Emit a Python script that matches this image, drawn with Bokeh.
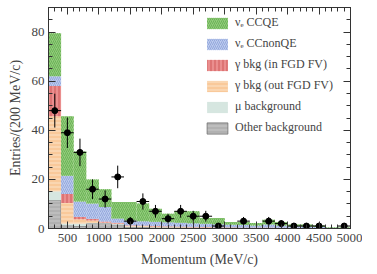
from bokeh.plotting import figure
from bokeh.models import ColumnDataSource, LinearAxis, SingleIntervalTicker, Range1d, Legend
from bokeh.embed import file_html
from bokeh.resources import INLINE

# bin centres (MeV/c), bin width 200
centers = [300, 500, 700, 900, 1100, 1300, 1500, 1700, 1900, 2100, 2300, 2500,
           2700, 2900, 3100, 3300, 3500, 3700, 3900, 4100, 4300, 4500, 4700, 4900]
other = [11.5, 1.2, 1.0, 2.0, 2.0, 1.5, 0.5, 0.5, 0.3, 0.3, 0.3, 0.2,
         0.2, 0.2, 0.2, 0.1, 0.1, 0.1, 0.1, 0.1, 0.1, 0.1, 0.0, 0.0]
mu_bkg = [3.7, 0.8, 1.0, 0.2, 0.2, 0.3, 0.3, 0.2, 0.2, 0.2, 0.1, 0.2,
          0.1, 0.1, 0.1, 0.1, 0.1, 0.1, 0.1, 0.1, 0.0, 0.0, 0.0, 0.0]
gamma_out = [30.5, 8.4, 1.8, 1.1, 0.2, 0.2, 0.3, 0.3, 0.3, 0.2, 0.2, 0.1,
             0.2, 0.1, 0.1, 0.1, 0.1, 0.1, 0.0, 0.0, 0.1, 0.0, 0.0, 0.0]
gamma_in = [12.3, 3.6, 0.9, 0.7, 0.4, 0.3, 0.2, 0.2, 0.2, 0.2, 0.2, 0.2,
            0.1, 0.1, 0.1, 0.1, 0.1, 0.1, 0.1, 0.1, 0.0, 0.1, 0.1, 0.1]
cc_nonqe = [4.0, 7.5, 6.3, 6.2, 6.0, 1.8, 2.0, 1.8, 1.7, 1.6, 1.5, 1.4,
            1.3, 1.2, 1.0, 1.0, 0.8, 1.2, 0.9, 0.6, 0.6, 0.4, 0.2, 0.2]
cc_qe = [17.5, 24.2, 20.4, 9.8, 7.2, 6.7, 7.5, 7.2, 5.3, 3.5, 4.7, 4.9,
         2.4, 2.6, 1.1, 1.2, 1.0, 2.0, 1.4, 0.7, 0.8, 0.6, 0.2, 0.2]
# data points
data_counts = [48, 39, 31, 16, 12, 21, 3, 11, 7, 4, 7, 5,
               5, 1, 0, 3, 0, 3, 2, 1, 1, 1, 0, 1]
data_err = [6.9, 6.2, 5.6, 4.0, 3.5, 4.6, 1.7, 3.3, 2.6, 2.0, 2.6, 2.2,
            2.2, 1.0, 0.0, 1.7, 0.0, 1.7, 1.4, 1.0, 1.0, 1.0, 0.0, 1.0]
bin_width = 200
labels = ["\u03bd\u2091 CCQE", "\u03bd\u2091 CCnonQE", "\u03b3 bkg (in FGD FV)",
          "\u03b3 bkg (out FGD FV)", "\u03bc background", "Other background"]

FONT = "Liberation Serif"

src = ColumnDataSource(dict(x=centers, other=other, mu=mu_bkg, gout=gamma_out,
                            gin=gamma_in, nonqe=cc_nonqe, qe=cc_qe))

p = figure(frame_width=302, frame_height=221, output_backend="svg", toolbar_location=None,
           x_range=Range1d(200, 5000), y_range=Range1d(0, 90),
           min_border_left=48, min_border_right=12, min_border_top=7, min_border_bottom=32,
           x_axis_label="Momentum (MeV/c)", y_axis_label="Entries/(200 MeV/c)")
p.grid.visible = False
p.outline_line_color = "#333333"
p.background_fill_color = "white"
bottom_ax = p.below[0]
left_ax = p.left[0]

stackers = ["other", "mu", "gout", "gin", "nonqe", "qe"]
fills = ["#bdbdbd", "#d6e6e0", "#f9c99a", "#ea8e8e", "#bccbee", "#92cc7a"]
hatch_cols = ["#a5a5a5", "#d6e6e0", "#fbe3c8", "#d05a5a", "#95a8dc", "#6bb258"]
hatch_pats = ["-", " ", "-", "|", "/", "/"]
line_cols = ["#707070", None, None, None, None, None]
rends = p.vbar_stack(stackers, x="x", width=bin_width, source=src,
                     fill_color=fills, line_color=line_cols, line_width=0.8,
                     hatch_pattern=hatch_pats, hatch_color=hatch_cols,
                     hatch_scale=4, hatch_weight=1)

# data points with error bars
dx = [c for c, n in zip(centers, data_counts) if n > 0]
dy = [n for n in data_counts if n > 0]
de = [e for e, n in zip(data_err, data_counts) if n > 0]
dsrc = ColumnDataSource(dict(x=dx, y=dy,
                             ylo=[y - e for y, e in zip(dy, de)],
                             yhi=[y + e for y, e in zip(dy, de)],
                             xlo=[x - bin_width / 2 for x in dx],
                             xhi=[x + bin_width / 2 for x in dx]))
p.segment(x0="x", y0="ylo", x1="x", y1="yhi", source=dsrc, line_color="black", line_width=1)
p.segment(x0="xlo", y0="y", x1="xhi", y1="y", source=dsrc, line_color="black", line_width=1)
p.scatter(x="x", y="y", source=dsrc, size=6, color="black")

# legend (top item = CCQE)
items = [(lab, [r]) for lab, r in zip(labels, reversed(rends))]
leg = Legend(items=items, location=(156, 93), glyph_width=26, glyph_height=14,
             label_height=14, spacing=6, padding=0, margin=0,
             label_text_font=FONT, label_text_font_size="12px",
             label_standoff=5, background_fill_alpha=0, border_line_alpha=0)
p.add_layout(leg)

xt = SingleIntervalTicker(interval=500, num_minor_ticks=5)
yt = SingleIntervalTicker(interval=20, num_minor_ticks=4)
bottom_ax.ticker = xt
left_ax.ticker = yt
top = LinearAxis(ticker=xt, major_label_text_color=None, major_label_text_font_size="0px")
right = LinearAxis(ticker=yt, major_label_text_color=None, major_label_text_font_size="0px")
p.add_layout(top, "above")
p.add_layout(right, "right")

for ax in [bottom_ax, left_ax, top, right]:
    ax.major_tick_in = 7
    ax.major_tick_out = 0
    ax.minor_tick_in = 4
    ax.minor_tick_out = 0
    ax.axis_line_color = "#333333"
    ax.major_tick_line_color = "#333333"
    ax.minor_tick_line_color = "#333333"
for ax in [bottom_ax, left_ax]:
    ax.major_label_text_font = FONT
    ax.major_label_text_font_size = "13px"
    ax.axis_label_text_font = FONT
    ax.axis_label_text_font_size = "14px"
    ax.axis_label_text_font_style = "normal"
bottom_ax.major_label_standoff = 5
bottom_ax.axis_label_standoff = 7
left_ax.major_label_standoff = 4
left_ax.axis_label_standoff = 6

open("out.html", "w").write(file_html(p, INLINE))
